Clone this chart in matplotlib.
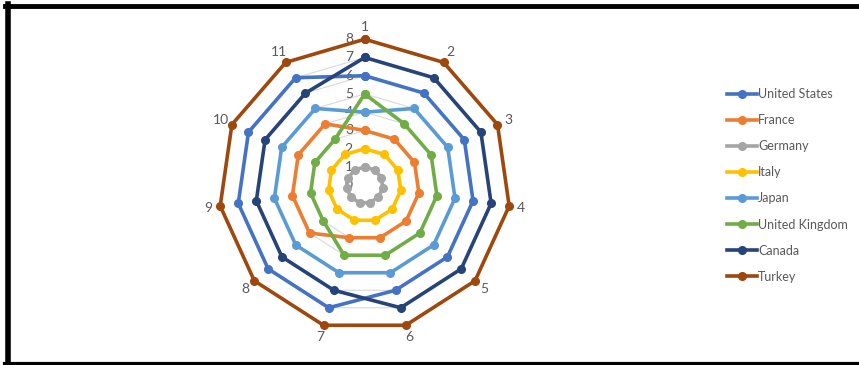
import numpy as np
import matplotlib
matplotlib.use("Agg")
from matplotlib import pyplot as plt
from matplotlib.lines import Line2D
import matplotlib.transforms as mtransforms

# categories around the radar and the values per country
categories = ['1', '2', '3', '4', '5', '6', '7', '8', '9', '10', '11']
countries = ['United States', 'France', 'Germany', 'Italy', 'Japan',
             'United Kingdom', 'Canada', 'Turkey']
united_states = [6, 6, 6, 6, 6, 6, 7, 7, 7, 7, 7]
france = [3, 3, 3, 3, 3, 3, 3, 4, 4, 4, 4]
germany = [1, 1, 1, 1, 1, 1, 1, 1, 1, 1, 1]
italy = [2, 2, 2, 2, 2, 2, 2, 2, 2, 2, 2]
japan = [4, 5, 5, 5, 5, 5, 5, 5, 5, 5, 5]
united_kingdom = [5, 4, 4, 4, 4, 4, 4, 3, 3, 3, 3]
canada = [7, 7, 7, 7, 7, 7, 6, 6, 6, 6, 6]
turkey = [8, 8, 8, 8, 8, 8, 8, 8, 8, 8, 8]
radial_ticks = [0, 1, 2, 3, 4, 5, 6, 7, 8]

series = [united_states, france, germany, italy, japan, united_kingdom, canada, turkey]
colors = ['#4472C4', '#ED7D31', '#A5A5A5', '#FFC000', '#5B9BD5',
          '#70AD47', '#264478', '#9E480E']
text_gray = '#595959'

plt.rcParams['font.family'] = ['Lato', 'DejaVu Sans']

fig = plt.figure(figsize=(8.59, 3.65), dpi=100)
ax = fig.add_axes([0.2546, 0.0926, 0.3399, 0.8], projection='polar')
ax.set_theta_offset(np.pi / 2)
ax.set_theta_direction(-1)

angles = np.linspace(0, 2 * np.pi, len(categories), endpoint=False)
closed = np.concatenate([angles, angles[:1]])

# polygon gridlines instead of circles
ax.grid(False)
ax.spines['polar'].set_visible(False)
ax.set_yticks([])
for r in radial_ticks[1:]:
    ax.plot(closed, [r] * len(closed), color='#D9D9D9', lw=0.8, zorder=1)

for vals, name, c in zip(series, countries, colors):
    v = list(vals) + [vals[0]]
    ax.plot(closed, v, color=c, lw=2.6, marker='o', markersize=5.5,
            label=name, zorder=3, clip_on=False)

ax.set_ylim(0, 8)
ax.set_xticks(angles)
ax.set_xticklabels(categories, fontsize=10, color=text_gray)
ax.tick_params(axis='x', pad=-2)

# value labels left of the top spoke
off = mtransforms.offset_copy(ax.transData, fig=fig, x=-8.5, y=0, units='points')
for r in radial_ticks:
    ax.text(0, r, str(r), transform=off, ha='right', va='center',
            fontsize=10, color=text_gray, zorder=2)

handles = [Line2D([0], [0], color=c, lw=2.6, marker='o', markersize=5.5)
           for c in colors]
fig.legend(handles, countries, loc='upper left', bbox_to_anchor=(0.833, 0.79),
           frameon=False, fontsize=9, handlelength=2.4, handletextpad=0.1,
           labelspacing=1.13, labelcolor=text_gray)

# black frame of the original chart (left, top, bottom)
W, H = 859.0, 365.0
fig.add_artist(Line2D([7.5 / W, 7.5 / W], [1 - 4 / H, 0], color='black', lw=4,
                      transform=fig.transFigure))
fig.add_artist(Line2D([5 / W, 1], [1 - 6 / H, 1 - 6 / H], color='black', lw=3.5,
                      transform=fig.transFigure))
fig.add_artist(Line2D([5 / W, 1], [1.5 / H, 1.5 / H], color='black', lw=3,
                      transform=fig.transFigure))

fig.savefig('out.png', dpi=100)
